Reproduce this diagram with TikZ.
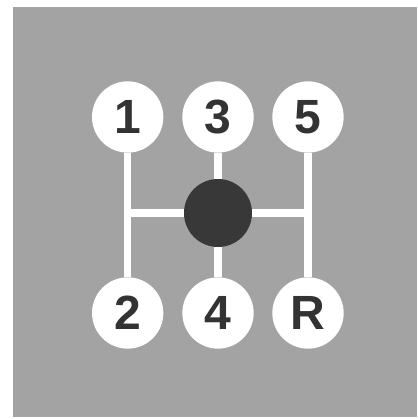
\documentclass[tikz,border=0pt]{standalone}
\usepackage{fontspec}
\setmainfont{Liberation Sans}
\usepackage{tikz}
\usetikzlibrary{positioning}

\definecolor{platecol}{gray}{0.64}
\definecolor{knobcol}{gray}{0.22}
\definecolor{digitcol}{gray}{0.2}

\tikzset{
  gear/.style={circle,fill=white,minimum size=2.14cm,inner sep=0pt,
    text=digitcol,font=\fontsize{41}{41}\selectfont\bfseries},
  gate/.style={white,line width=6pt}
}

\begin{document}
\begin{tikzpicture}
\useasboundingbox (0,0) rectangle (12.51,12.57);
% gray plate
\fill[platecol] (0.39,0.06) rectangle (12.51,12.36);
% gear positions
\node[gear] (g1) at (3.83,9.06) {1};
\node[gear] (g3) at (6.54,9.06) {3};
\node[gear] (g5) at (9.24,9.06) {5};
\node[gear] (g2) at (3.83,3.18) {2};
\node[gear] (g4) at (6.54,3.18) {4};
\node[gear] (gR) at (9.24,3.18) {R};
% shift knob
\node[circle,fill=knobcol,minimum size=2.04cm,inner sep=0pt] (knob) at (6.54,6.18) {};
% gate slots
\draw[gate] (g1) -- (g2);
\draw[gate] (g5) -- (gR);
\draw[gate] (g3) -- (knob);
\draw[gate] (knob) -- (g4);
\draw[gate] (g1 |- knob) -- (knob);
\draw[gate] (knob) -- (g5 |- knob);
\end{tikzpicture}
\end{document}
